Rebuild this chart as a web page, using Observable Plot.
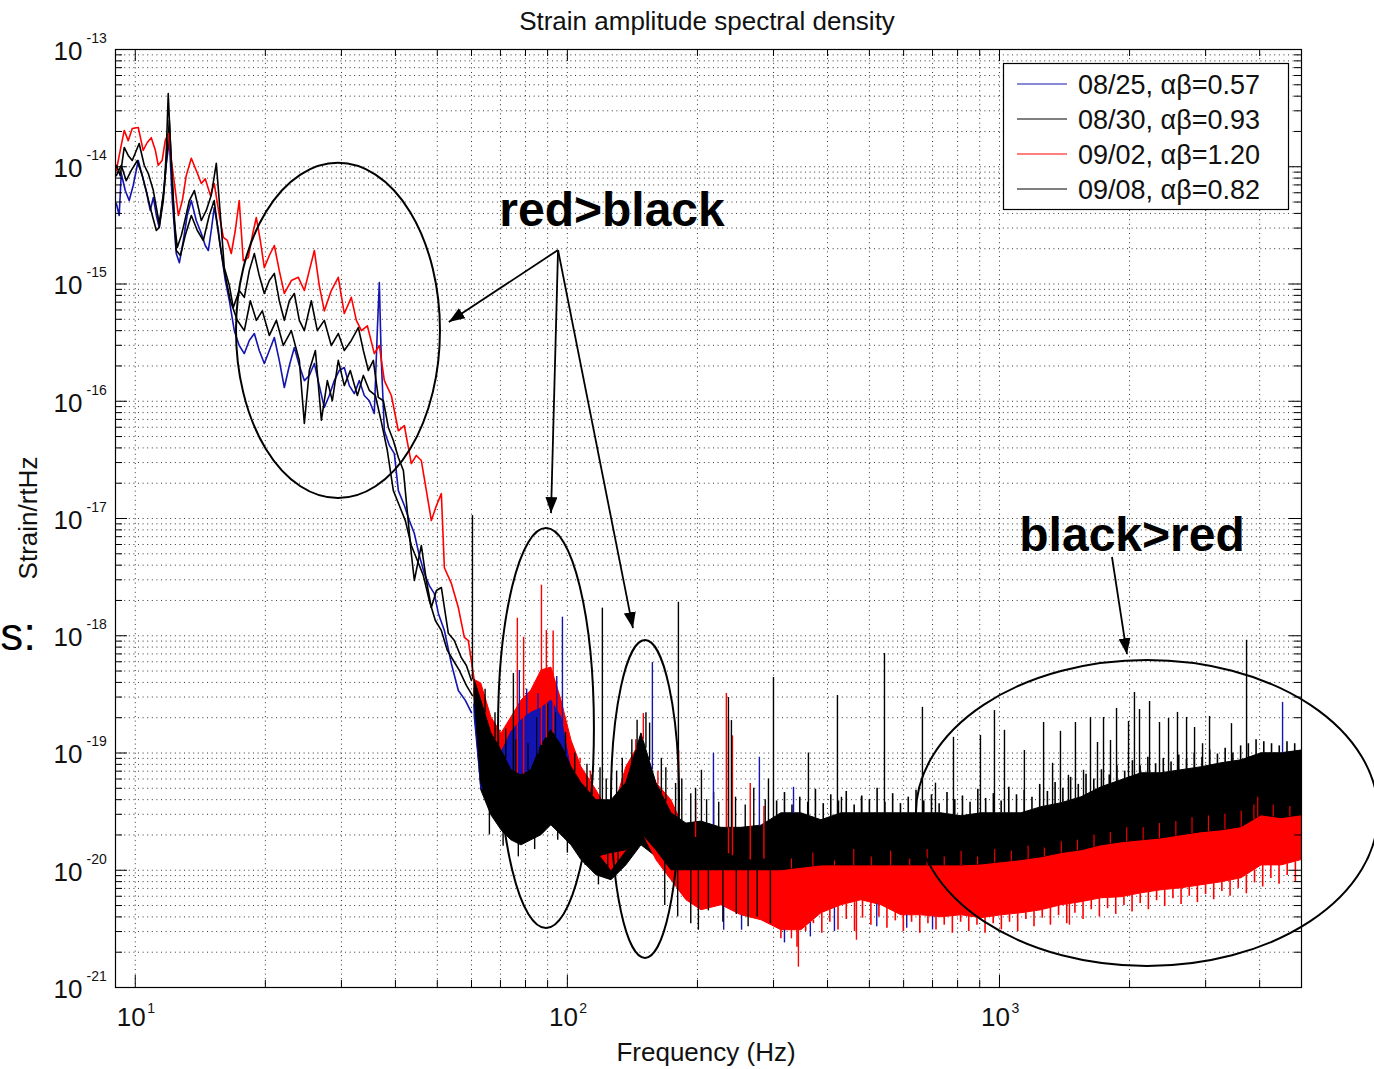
<!DOCTYPE html>
<html><head><meta charset="utf-8">
<script src="https://cdn.jsdelivr.net/npm/d3@7"></script>
<script src="https://cdn.jsdelivr.net/npm/@observablehq/plot@0.6"></script>
<style>
html,body{margin:0;padding:0;background:#fff;}
#wrap{position:relative;width:1374px;height:1069px;overflow:hidden;}
#wrap svg{position:absolute;left:0;top:0;}
</style></head><body><div id="wrap"></div>
<script>
// ---------- text ----------
const titleText = "Strain amplitude spectral density";
const xLabelText = "Frequency (Hz)";
const yLabelText = "Strain/rtHz";
const seriesNames = ["08/25, \u03b1\u03b2=0.57", "08/30, \u03b1\u03b2=0.93", "09/02, \u03b1\u03b2=1.20", "09/08, \u03b1\u03b2=0.82"];
const seriesColors = ["#1414b0", "#000000", "#ff0000", "#000000"];

// ---------- ticks ----------
const xTickValues = [10, 100, 1000];
const yTickValues = [1e-21, 1e-20, 1e-19, 1e-18, 1e-17, 1e-16, 1e-15, 1e-14, 1e-13];
const xDomain = [9, 5000];
const yDomain = [1e-21, 1e-13];

// ---------- low-frequency traces [Hz, strain/rtHz] ----------
const blueTrace = [[9.04,4.86e-15],[9.18,3.84e-15],[9.28,8.75e-15],[9.48,6.27e-15],[9.68,5.15e-15],[9.89,6.92e-15],[10.16,1.13e-14],[10.38,8.4e-15],[10.6,6.27e-15],[10.83,4.24e-15],[11.01,5.47e-15],[11.19,3.84e-15],[11.36,3.03e-15],[11.61,5.7e-15],[11.8,1.07e-14],[11.99,1.67e-14],[12.18,5.15e-15],[12.44,1.82e-15],[12.65,1.52e-15],[12.92,2.35e-15],[13.19,3.84e-15],[13.48,5.15e-15],[13.84,3.48e-15],[14.22,2.7e-15],[14.52,2.13e-15],[14.76,1.93e-15],[14.99,2.86e-15],[15.23,4.49e-15],[15.57,2.86e-15],[15.82,1.82e-15],[16.16,1.07e-15],[16.51,7.2e-16],[16.95,4.0e-16],[17.4,2.99e-16],[17.88,2.55e-16],[18.36,3.3e-16],[18.86,3.78e-16],[19.36,2.71e-16],[19.89,2.1e-16],[20.43,2.71e-16],[20.98,3.5e-16],[21.54,2.23e-16],[22.13,1.31e-16],[22.73,2.02e-16],[23.34,2.87e-16],[23.97,2.02e-16],[24.62,1.5e-16],[25.28,1.66e-16],[25.97,2.1e-16],[26.66,1.36e-16],[27.38,8.85e-17],[28.12,1.12e-16],[28.88,1.5e-16],[29.66,1.83e-16],[30.46,1.94e-16],[31.29,1.36e-16],[32.13,1.16e-16],[33.0,1.5e-16],[33.89,1.12e-16],[34.8,1.01e-16],[35.74,7.87e-17],[36.32,4.0e-16],[36.71,1.03e-15],[37.1,2.23e-16],[37.71,5.6e-17],[38.73,4.2e-17],[39.77,3.58e-17],[40.63,1.73e-17],[41.95,1.29e-17],[43.09,9.6e-18],[44.24,7.45e-18],[45.43,4.83e-18],[46.67,3.4e-18],[47.92,2.68e-18],[49.21,2.29e-18],[50.28,1.55e-18],[51.92,1.11e-18],[53.88,5.8e-19],[55.93,3.41e-19],[58.06,2.81e-19],[59.98,2.21e-19]];

const black0830Trace = [[9.04,8.4e-15],[9.28,1.03e-14],[9.53,7.6e-15],[9.79,9.3e-15],[10.11,1.13e-14],[10.38,8.4e-15],[10.66,5.7e-15],[10.95,3.84e-15],[11.19,2.86e-15],[11.36,3.03e-15],[11.61,5.15e-15],[11.86,1.38e-14],[11.99,2.48e-14],[12.18,7.6e-15],[12.44,1.93e-15],[12.72,1.75e-15],[13.05,2.59e-15],[13.48,3.84e-15],[13.92,2.86e-15],[14.37,2.35e-15],[14.83,3.84e-15],[15.23,5.15e-15],[15.65,2.35e-15],[16.07,1.3e-15],[16.6,7.2e-16],[17.22,4.9e-16],[17.88,4.0e-16],[18.46,7.2e-16],[19.06,4.9e-16],[19.68,5.9e-16],[20.43,3.64e-16],[21.21,4.9e-16],[22.01,2.99e-16],[22.97,4.0e-16],[23.97,2.23e-16],[24.62,6.46e-17],[25.28,1.83e-16],[26.11,2.71e-16],[26.96,6.9e-17],[27.83,1.5e-16],[28.58,1.01e-16],[29.5,2.23e-16],[30.46,1.36e-16],[31.45,1.83e-16],[32.66,1.12e-16],[33.72,1.66e-16],[34.8,1.24e-16],[35.94,1.12e-16],[37.1,6.7e-17],[38.31,3.8e-17],[39.56,1.73e-17],[40.84,1.29e-17],[42.17,9.6e-18],[43.54,5.89e-18],[44.96,4.38e-18],[46.42,3.26e-18],[47.92,2.0e-18],[49.48,1.35e-18],[51.09,1.11e-18],[52.75,7.5e-19],[54.47,6.15e-19],[56.23,5.06e-19],[58.38,3.77e-19],[60.3,3.09e-19]];

const redTrace = [[9.04,9.3e-15],[9.23,1.38e-14],[9.43,2.04e-14],[9.63,1.67e-14],[9.84,2.12e-14],[10.16,2.16e-14],[10.43,1.38e-14],[10.66,1.61e-14],[10.89,1.77e-14],[11.13,1.38e-14],[11.3,1.03e-14],[11.54,1.13e-14],[11.73,1.67e-14],[11.92,1.92e-14],[12.12,1.13e-14],[12.38,6.27e-15],[12.58,3.84e-15],[12.85,5.15e-15],[13.12,8.4e-15],[13.48,1.18e-14],[13.84,9.3e-15],[14.22,7.2e-15],[14.52,7.9e-15],[14.92,5.7e-15],[15.23,7.2e-15],[15.65,3.84e-15],[15.99,2.5e-15],[16.33,2.35e-15],[16.68,1.82e-15],[17.04,2.86e-15],[17.4,5.15e-15],[17.78,1.58e-15],[18.26,1.68e-15],[18.66,2.59e-15],[19.06,3.69e-15],[19.47,2.35e-15],[19.89,1.38e-15],[20.43,1.75e-15],[20.98,2.13e-15],[21.54,1.3e-15],[22.13,8.3e-16],[22.97,1.07e-15],[23.84,1.14e-15],[24.62,8.8e-16],[25.28,1.3e-15],[25.97,1.93e-15],[26.66,9.7e-16],[27.38,5.9e-16],[28.42,8.8e-16],[29.5,1.14e-15],[30.46,5.6e-16],[31.62,7.7e-16],[32.48,4.9e-16],[33.37,4.0e-16],[34.44,4.4e-16],[35.74,2.55e-16],[36.71,2.99e-16],[37.71,1.5e-16],[39.14,1.12e-16],[40.63,5.6e-17],[41.95,6.2e-17],[43.54,2.94e-17],[44.72,3.45e-17],[45.92,3.12e-17],[47.17,1.73e-17],[48.44,9.6e-18],[49.77,1.29e-17],[51.09,1.63e-17],[51.92,3.8e-18],[53.88,2.8e-18],[55.93,1.74e-18],[57.75,9.7e-19],[58.99,9.1e-19],[60.9,4.15e-19]];

const black0908Trace = [[9.04,1.03e-14],[9.23,8.4e-15],[9.43,1.46e-14],[9.63,1.25e-14],[9.84,1.13e-14],[10.21,1.58e-14],[10.49,1.03e-14],[10.72,8.75e-15],[11.01,6.27e-15],[11.36,3.28e-15],[11.67,6.65e-15],[11.8,1.38e-14],[11.92,4.2e-14],[12.05,1.67e-14],[12.31,3.48e-15],[12.51,2.05e-15],[12.78,2.59e-15],[12.98,3.28e-15],[13.34,5.15e-15],[13.7,6.27e-15],[14.22,3.48e-15],[14.6,4.24e-15],[14.99,5.7e-15],[15.4,1.07e-14],[15.74,3.84e-15],[16.07,1.38e-15],[16.51,9.7e-16],[16.86,6.3e-16],[17.4,8.8e-16],[17.88,7.7e-16],[18.36,1.3e-15],[18.86,1.82e-15],[19.36,1.18e-15],[19.89,8.3e-16],[20.43,1.07e-15],[20.98,1.23e-15],[21.54,7.2e-16],[22.13,4.9e-16],[22.73,7.2e-16],[23.34,8.3e-16],[23.97,4.9e-16],[24.62,4.0e-16],[25.55,7.2e-16],[26.38,4.0e-16],[27.38,4.9e-16],[28.42,2.99e-16],[29.5,3.78e-16],[30.46,2.71e-16],[31.62,3.3e-16],[32.83,4.25e-16],[33.72,2.71e-16],[34.63,1.83e-16],[35.56,2.23e-16],[36.51,1.08e-16],[37.51,1.01e-16],[38.52,5.97e-17],[39.56,4.63e-17],[40.63,3.31e-17],[41.73,2.57e-17],[43.54,5.0e-18],[44.24,2.96e-18],[45.92,5.89e-18],[47.17,2.96e-18],[48.44,1.74e-18],[49.77,2.43e-18],[51.09,2.58e-18],[53.03,1.05e-18],[54.75,9.1e-19],[56.83,6.5e-19],[58.38,5.57e-19],[59.98,4.15e-19]];

// ---------- noise bands above 60 Hz [Hz, lower, upper] ----------
const blueMidBand = [[61,2.0e-19,2.6e-19],[63.2,5e-20,2.5e-19],[66.7,4.5e-20,1.3e-19],[70.4,3.8e-20,1.0e-19],[74.2,4.0e-20,1.5e-19],[78.3,4.0e-20,1.9e-19],[82.5,3.6e-20,2.2e-19],[87.1,4.2e-20,2.4e-19],[91.8,5.0e-20,2.8e-19],[96.9,4.2e-20,2.0e-19],[102.2,3.0e-20,7.0e-20],[107.8,2.2e-20,5.0e-20],[116.7,1.8e-20,3.6e-20],[126.5,1.6e-20,3.0e-20],[136.9,1.8e-20,5.0e-20],[148.4,2.3e-20,9.5e-20],[160.7,1.8e-20,4.5e-20]];
const blueHighBand = [[160,1.4e-20,4.0e-20],[200,7e-21,1.8e-20],[250,6e-21,1.3e-20],[300,6e-21,1.2e-20],[400,7e-21,1.15e-20],[600,7e-21,1.15e-20],[900,7e-21,1.15e-20],[1500,7.5e-21,1.5e-20],[2500,9e-21,2.0e-20],[4000,1.3e-20,2.9e-20],[5000,1.4e-20,2.9e-20]];
const black0830Band = [[61,2.5e-19,3.5e-19],[63.2,4.81e-20,2.3e-19],[66.7,2.94e-20,1.28e-19],[70.4,2.19e-20,8.67e-20],[74.2,1.8e-20,6.46e-20],[78.3,1.63e-20,7.13e-20],[82.5,1.8e-20,8.67e-20],[87.1,1.99e-20,1.05e-19],[91.8,2.42e-20,1.28e-19],[96.9,1.99e-20,8.67e-20],[102.2,1.63e-20,5.86e-20],[107.8,1.22e-20,4.36e-20],[116.7,9.07e-21,3.58e-20],[126.5,8.22e-21,3.58e-20],[136.9,1.1e-20,4.81e-20],[148.4,1.63e-20,8.67e-20],[160.7,1.3e-20,4.0e-20],[174.1,9e-21,2.6e-20],[188.6,7e-21,1.9e-20],[204.3,6.5e-21,1.7e-20],[227.3,6.5e-21,1.5e-20],[252.8,6e-21,1.3e-20],[281.2,6e-21,1.3e-20],[312.8,6.5e-21,1.4e-20],[348,7e-21,1.1e-20],[593.1,7e-21,1.17e-20],[1011,7e-21,1.22e-20],[1548,7.5e-21,1.5e-20],[2132,8.5e-21,1.87e-20],[2935,9.5e-21,2.07e-20],[4041,1.3e-20,2.94e-20],[5000,1.4e-20,2.94e-20]];
const redBand = [[61,3.0e-19,4.2e-19],[63.2,1.47e-19,3.92e-19],[66.7,7.56e-20,2.01e-19],[70.4,5.53e-20,1.47e-19],[74.2,3.95e-20,2.01e-19],[78.3,2.67e-20,2.8e-19],[82.5,2.67e-20,3.41e-19],[87.1,3.95e-20,5.06e-19],[91.8,5.86e-20,5.36e-19],[96.9,4.81e-20,2.8e-19],[102.2,3.25e-20,1.28e-19],[107.8,2.07e-20,7.56e-20],[116.7,1.48e-20,4.81e-20],[126.5,1.0e-20,2.83e-20],[136.9,1.48e-20,7.56e-20],[148.4,2.19e-20,1.28e-19],[160.7,1.22e-20,5.53e-20],[174.1,8.22e-21,3.95e-20],[188.6,5.55e-21,2.07e-20],[204.3,4.56e-21,1.8e-20],[227.3,5.03e-21,1.48e-20],[252.8,4.13e-21,1.22e-20],[281.2,3.75e-21,1.22e-20],[312.8,3.08e-21,1.48e-20],[348,3.08e-21,1.15e-20],[387.3,4.3e-21,1.15e-20],[430.8,5.03e-21,1.22e-20],[479.2,5.55e-21,1.4e-20],[533.2,5.03e-21,1.29e-20],[593.1,4.13e-21,1.22e-20],[659.8,4.13e-21,1.22e-20],[734,3.97e-21,1.22e-20],[816.6,4.13e-21,1.27e-20],[908.4,3.9e-21,1.22e-20],[1011,4.13e-21,1.29e-20],[1124,4.3e-21,1.34e-20],[1251,4.56e-21,1.48e-20],[1392,5.03e-21,1.54e-20],[1548,5.34e-21,1.63e-20],[1722,5.77e-21,1.7e-20],[1916,5.89e-21,1.87e-20],[2132,6.36e-21,1.99e-20],[2371,6.75e-21,2.11e-20],[2638,7.02e-21,2.19e-20],[2935,7.45e-21,2.19e-20],[3265,7.9e-21,2.37e-20],[3632,8.55e-21,2.57e-20],[4041,1.1e-20,3.12e-20],[4495,1.1e-20,2.94e-20],[5000,1.22e-20,3.12e-20]];
const black0908Band = [[61,3.0e-19,4.2e-19],[63.2,5.53e-20,2.8e-19],[66.7,3.25e-20,1.47e-19],[70.4,2.83e-20,1.05e-19],[74.2,2.52e-20,7.13e-20],[78.3,2.07e-20,6.46e-20],[82.5,1.91e-20,7.13e-20],[87.1,2.83e-20,1.16e-19],[91.8,3.95e-20,1.56e-19],[96.9,2.83e-20,1.16e-19],[102.2,2.07e-20,7.56e-20],[107.8,1.48e-20,5.53e-20],[116.7,1.3e-20,3.95e-20],[126.5,1.4e-20,3.95e-20],[136.9,1.48e-20,5.53e-20],[148.4,2.07e-20,1.47e-19],[160.7,1.48e-20,5.53e-20],[174.1,1.0e-20,3.06e-20],[188.6,1.0e-20,2.5e-20],[204.3,1.0e-20,2.6e-20],[227.3,1.0e-20,2.3e-20],[252.8,1.0e-20,2.3e-20],[281.2,1.0e-20,2.4e-20],[312.8,1.0e-20,3.06e-20],[348,1.05e-20,3.06e-20],[387.3,1.1e-20,2.67e-20],[430.8,1.1e-20,3.06e-20],[479.2,1.1e-20,3.06e-20],[533.2,1.1e-20,3.06e-20],[593.1,1.1e-20,3.06e-20],[659.8,1.1e-20,3.06e-20],[734,1.1e-20,3.06e-20],[816.6,1.1e-20,2.89e-20],[908.4,1.12e-20,3.06e-20],[1011,1.17e-20,3.06e-20],[1124,1.22e-20,3.06e-20],[1251,1.29e-20,3.45e-20],[1392,1.4e-20,3.73e-20],[1548,1.48e-20,4.19e-20],[1722,1.63e-20,5.1e-20],[1916,1.73e-20,5.86e-20],[2132,1.8e-20,6.72e-20],[2371,1.87e-20,6.72e-20],[2638,1.99e-20,7.13e-20],[2935,2.11e-20,7.56e-20],[3265,2.19e-20,8.17e-20],[3632,2.33e-20,8.67e-20],[4041,2.94e-20,9.95e-20],[4495,2.78e-20,9.95e-20],[5000,2.94e-20,1.05e-19]];

// ---------- narrow lines: [Hz, tip value] ----------
const blackPeaks = [[60.3,1.06e-17],[75.0,4.76e-19],[120.5,1.72e-18],[180.7,1.93e-18],[204.3,7.13e-20],[235.9,2.97e-19],[239.7,1.89e-19],[299.9,4.41e-19],[361.3,1.0e-19],[421.7,3.09e-19],[430.8,4.19e-20],[479.2,4.19e-20],[541.8,7.06e-19],[663.3,2.45e-19],[711,5.53e-20],[782.6,1.36e-19],[903.6,1.41e-19],[973.6,2.3e-19],[1027,1.56e-19],[1142,1.05e-19],[1265,1.82e-19],[1327,8.17e-20],[1384,1.53e-19],[1444,6.46e-20],[1499,1.82e-19],[1565,7.13e-20],[1624,2.01e-19],[1686,1.23e-19],[1741,2.01e-19],[1807,1.28e-19],[1866,2.4e-19],[1989,1.86e-19],[2053,3.28e-19],[2109,2.35e-19],[2225,2.75e-19],[2346,1.82e-19],[2462,1.97e-19],[2582,2.22e-19],[2710,2.01e-19],[2828,1.65e-19],[2951,1.2e-19],[3063,2.05e-19],[3443,1.78e-19],[3731,9.15e-19]];
const blackMidUp = [[64.5,3.5e-19],[68,2.2e-19],[72,1.6e-19],[76,1.3e-19],[81,1.2e-19],[85,2.0e-19],[90,2.6e-19],[94,2.2e-19],[99,1.5e-19],[104,1.0e-19],[111,8.0e-20],[114,6.5e-20],[119,7.5e-20],[123,6.0e-20],[130,7.0e-20],[134,9.0e-20],[141,1.3e-19],[145,1.9e-19],[152,2.2e-19],[155,1.8e-19],[165,9.0e-20],[169,7.5e-20],[178,5.5e-20],[184,6.0e-20],[193,4.5e-20],[198,5.0e-20],[210,4.0e-20],[218,4.6e-20],[224,3.8e-20],[245,4.2e-20],[258,3.6e-20],[270,5.0e-20],[287,4.0e-20],[292,6.0e-20]];
const blackTopNoise = [[305,3.9e-20],[318,4.6e-20],[331,3.6e-20],[345,4.2e-20],[360,3.8e-20],[375,4.9e-20],[391,3.7e-20],[407,4.4e-20],[424,3.9e-20],[442,4.7e-20],[461,3.6e-20],[480,4.3e-20],[500,4.0e-20],[521,5.0e-20],[543,3.8e-20],[566,4.5e-20],[590,3.7e-20],[615,4.2e-20],[641,4.8e-20],[668,3.9e-20],[696,4.4e-20],[725,3.7e-20],[756,4.6e-20],[788,4.0e-20],[821,4.3e-20],[855,3.8e-20],[891,4.9e-20],[929,4.1e-20],[968,4.5e-20],[1009,3.9e-20],[1051,5.1e-20],[1095,4.4e-20],[1141,4.8e-20],[1189,4.2e-20],[1239,5.4e-20],[1291,4.7e-20],[1345,5.6e-20],[1402,5.0e-20],[1461,6.2e-20],[1522,5.4e-20],[1586,6.6e-20],[1653,6.0e-20],[1722,7.2e-20],[1795,6.5e-20],[1870,7.8e-20],[1949,7.0e-20],[2031,8.6e-20],[2116,7.8e-20],[2205,9.2e-20],[2298,8.1e-20],[2394,9.0e-20],[2495,8.4e-20],[2600,9.6e-20],[2709,8.8e-20],[2823,1.0e-19],[2942,9.2e-20],[3066,1.06e-19],[3195,9.8e-20],[3329,1.1e-19],[3469,1.0e-19],[3615,1.15e-19],[3767,1.2e-19],[3925,1.3e-19],[4090,1.25e-19],[4262,1.2e-19],[4441,1.15e-19],[4628,1.25e-19],[4822,1.2e-19]];
const blackDips = [[66,2.0e-20],[71,1.6e-20],[77,1.3e-20],[84,1.5e-20],[95,1.8e-20],[100,1.4e-20],[110,1.1e-20],[118,7.5e-21],[124,9e-21],[131,1.0e-20],[168,5.0e-21],[180,4.0e-21],[193,3.5e-21],[201,3.08e-21],[212,4.5e-21],[229,3.6e-21],[246,4.2e-21],[262,3.3e-21],[275,4.0e-21],[295,3.5e-21]];
const redPeaks = [[76.6,1.41e-18],[79.2,9.7e-19],[87.1,2.7e-18],[89.4,1.11e-18],[92.7,1.1e-18],[149.9,2.17e-19],[233.3,3.22e-19]];
const redMidUp = [[107,9e-20],[113,7e-20],[139,8e-20],[144,1.3e-19],[162,7e-20],[181,1.04e-19],[198,4e-20],[236,1.9e-19],[241,1.4e-19],[265,5.5e-20],[285,3.5e-20]];
const redTopNoise = [[330,1.25e-20],[370,1.4e-20],[415,1.2e-20],[460,1.5e-20],[505,1.3e-20],[560,1.45e-20],[620,1.25e-20],[680,1.5e-20],[745,1.3e-20],[815,1.45e-20],[890,1.3e-20],[975,1.5e-20],[1065,1.45e-20],[1165,1.6e-20],[1270,1.55e-20],[1390,1.75e-20],[1515,1.8e-20],[1655,2.0e-20],[1805,2.1e-20],[1970,2.3e-20],[2150,2.3e-20],[2345,2.5e-20],[2560,2.6e-20],[2790,2.8e-20],[3045,2.9e-20],[3325,3.0e-20],[3625,3.2e-20],[3880,3.6e-20],[3960,4.2e-20],[4300,3.6e-20],[4700,3.5e-20]];
const redDips = [[342.5,1.49e-21],[330,2.6e-21],[466.7,2.53e-21],[1452,3.4e-21]];
const redBottomNoise = [[312,2.6e-21],[326,3.3e-21],[340,2.2e-21],[356,3.0e-21],[371,3.5e-21],[388,2.9e-21],[405,3.6e-21],[423,3.1e-21],[442,3.8e-21],[462,3.0e-21],[482,3.9e-21],[504,3.4e-21],[526,4.0e-21],[549,3.2e-21],[574,3.7e-21],[599,3.0e-21],[626,3.6e-21],[654,2.9e-21],[683,3.5e-21],[713,3.1e-21],[745,3.4e-21],[778,2.9e-21],[813,3.6e-21],[849,3.0e-21],[887,3.4e-21],[926,2.9e-21],[967,3.5e-21],[1010,3.1e-21],[1055,3.6e-21],[1102,3.0e-21],[1151,3.8e-21],[1202,3.3e-21],[1256,3.9e-21],[1312,3.4e-21],[1370,4.1e-21],[1431,3.5e-21],[1495,4.3e-21],[1561,3.8e-21],[1631,4.6e-21],[1703,4.0e-21],[1779,4.7e-21],[1858,4.2e-21],[1941,5.0e-21],[2027,4.4e-21],[2117,5.2e-21],[2211,4.6e-21],[2310,5.5e-21],[2412,4.9e-21],[2520,5.7e-21],[2632,5.1e-21],[2749,6.0e-21],[2871,5.3e-21],[2999,6.2e-21],[3132,5.6e-21],[3271,6.6e-21],[3417,6.0e-21],[3569,7.0e-21],[3727,6.3e-21],[3893,7.8e-21],[4066,7.2e-21],[4247,8.5e-21],[4436,7.6e-21],[4633,9.0e-21],[4839,8.0e-21]];
const bluePeaks = [[77.4,5.06e-19],[80.5,3.5e-19],[85.5,3.2e-19],[94.5,4.5e-19],[97.4,1.44e-18],[157.3,5.91e-19],[217.8,9.95e-20],[278.2,9.2e-20],[333.7,5.1e-20],[4520,2.7e-19]];
const blueDips = [[230,3.08e-21],[253,3.08e-21],[318,2.4e-21],[365,2.7e-21],[415,3.0e-21],[520,3.3e-21],[610,3.2e-21],[700,3.1e-21]];

// ---------- annotations ----------
// ellipses: [f left, f right, strain bottom, strain top]
const annotEllipses = [[17.15,50.85,1.48e-17,1.07e-14],[69.3,115.5,3.18e-21,8.2e-18],[126.5,181.8,1.77e-21,9.1e-19],[642.4,7537,1.51e-21,6.15e-19]];
// arrows: [f from, strain from, f to, strain to]
const annotArrows = [[95.4,1.93e-15,53.3,4.7e-16],[95.4,1.93e-15,91.9,1.1e-17],[95.4,1.93e-15,142.2,1.15e-18],[1826,4.65e-18,1978,6.9e-19]];
// labels: [f centre, strain baseline, text]
const annotLabels = [[127.2,3.09e-15,"red>black"],[2032,5.23e-18,"black>red"]];

// ---------- helpers ----------
const W = 1374, H = 1069, ML = 115, MR = 73, MT = 49, MB = 82;
const FW = W - ML - MR, FH = H - MT - MB;
function edgeAt(band, f, k) {
  const i = d3.bisector(d => d[0]).left(band, f);
  if (i <= 0) return band[0][k];
  if (i >= band.length) return band[band.length - 1][k];
  const a = band[i - 1], b = band[i];
  const t = (Math.log(f) - Math.log(a[0])) / (Math.log(b[0]) - Math.log(a[0]));
  return Math.exp(Math.log(a[k]) + t * (Math.log(b[k]) - Math.log(a[k])));
}
const xMinor = [], yMinor = [];
for (const d of [10, 100, 1000]) for (let m = 2; m <= 9; m++) if (m * d < 5000) xMinor.push(m * d);
for (let e = -21; e < -13; e++) for (let m = 2; m <= 9; m++) yMinor.push(m * Math.pow(10, e));
const xGrid = xTickValues.concat(xMinor);
const yGrid = yTickValues.slice(1, -1).concat(yMinor);

const [BLUE, BLACK, RED] = [seriesColors[0], seriesColors[1], seriesColors[2]];
const lineOpts = (c) => ({x: d => d[0], y: d => d[1], stroke: c, strokeWidth: 1.6});
const bandOpts = (c) => ({x: d => d[0], y1: d => d[1], y2: d => d[2], fill: c, stroke: c, strokeWidth: 1});
const upOpts = (band, k, c, w = 1.4) => ({x: d => d[0], y1: d => edgeAt(band, d[0], k), y2: d => d[1], stroke: c, strokeWidth: w});
const gridStyle = {stroke: "#000", strokeOpacity: 0.8, strokeWidth: 1, strokeDasharray: "1,3.6"};
const TXT = "#111";

const plot = Plot.plot({
  width: W, height: H,
  marginLeft: ML, marginRight: MR, marginTop: MT, marginBottom: MB,
  style: {fontFamily: "'Liberation Sans', Arial, sans-serif", background: "#fff", color: "#000"},
  x: {type: "log", domain: xDomain, axis: null},
  y: {type: "log", domain: yDomain, axis: null},
  marks: [
    Plot.ruleX(xGrid, {x: d => d, ...gridStyle}),
    Plot.ruleY(yGrid, {y: d => d, ...gridStyle}),
    // MATLAB draw order: 08/25, 08/30, 09/02, 09/08
    Plot.areaY(blueHighBand, bandOpts(BLUE)),
    Plot.line(blueTrace, lineOpts(BLUE)),
    Plot.line(black0830Trace, lineOpts(BLACK)),
    Plot.areaY(black0830Band, bandOpts(BLACK)),
    Plot.line(redTrace, lineOpts(RED)),
    Plot.areaY(redBand, bandOpts(RED)),
    Plot.ruleX(redBottomNoise, upOpts(redBand, 1, RED, 1.6)),
    Plot.areaY(blueMidBand, bandOpts(BLUE)),
    Plot.line(black0908Trace, lineOpts(BLACK)),
    Plot.areaY(black0908Band, bandOpts(BLACK)),
    Plot.ruleX(blackTopNoise, upOpts(black0908Band, 2, BLACK, 1.6)),
    Plot.ruleX(redTopNoise, upOpts(black0908Band, 1, RED, 1.1)),
    Plot.ruleX(redMidUp, upOpts(redBand, 2, RED)),
    Plot.ruleX(redDips, upOpts(redBand, 1, RED)),
    Plot.ruleX(blueDips, upOpts(redBand, 1, BLUE)),
    Plot.ruleX(blackDips, upOpts(black0908Band, 1, BLACK)),
    Plot.ruleX(blackMidUp, upOpts(black0908Band, 2, BLACK)),
    Plot.ruleX(redPeaks, upOpts(black0908Band, 2, RED)),
    Plot.ruleX(blackPeaks, upOpts(black0908Band, 2, BLACK)),
    Plot.ruleX(bluePeaks, upOpts(black0908Band, 2, BLUE)),
    Plot.frame({stroke: "#000", strokeWidth: 1.2}),
    // tick marks (inside the frame)
    Plot.ruleX(xTickValues, {x: d => d, insetTop: FH - 12, stroke: "#000"}),
    Plot.ruleX(xTickValues, {x: d => d, insetBottom: FH - 12, stroke: "#000"}),
    Plot.ruleX(xMinor, {x: d => d, insetTop: FH - 7, stroke: "#000"}),
    Plot.ruleX(xMinor, {x: d => d, insetBottom: FH - 7, stroke: "#000"}),
    Plot.ruleY(yTickValues, {y: d => d, insetRight: FW - 12, stroke: "#000"}),
    Plot.ruleY(yTickValues, {y: d => d, insetLeft: FW - 12, stroke: "#000"}),
    Plot.ruleY(yMinor, {y: d => d, insetRight: FW - 7, stroke: "#000"}),
    Plot.ruleY(yMinor, {y: d => d, insetLeft: FW - 7, stroke: "#000"}),
    // tick labels 10^n
    Plot.text(yTickValues, {y: d => d, frameAnchor: "left", text: () => "10", dx: -33, dy: 2, textAnchor: "end", fontSize: 26, fill: TXT}),
    Plot.text(yTickValues, {y: d => d, frameAnchor: "left", text: d => String(Math.round(Math.log10(d))), dx: -29, dy: -11, textAnchor: "start", fontSize: 14, fill: TXT}),
    Plot.text(xTickValues, {x: d => d, frameAnchor: "bottom", text: () => "10", dx: -4, dy: 38, fontSize: 26, fill: TXT}),
    Plot.text(xTickValues, {x: d => d, frameAnchor: "bottom", text: d => String(Math.round(Math.log10(d))), dx: 12, dy: 25, textAnchor: "start", fontSize: 14, fill: TXT})
  ]
});
document.getElementById("wrap").appendChild(plot);

// ---------- overlays positioned through the plot's own scales ----------
const sx = plot.scale("x"), sy = plot.scale("y");
const svg = d3.select(plot);
const ff = "'Liberation Sans', Arial, sans-serif";
svg.append("text").attr("x", 707).attr("y", 30).attr("text-anchor", "middle").attr("font-size", 26).attr("font-family", ff).attr("fill", TXT).text(titleText);
svg.append("text").attr("x", 706).attr("y", 1061).attr("text-anchor", "middle").attr("font-size", 26).attr("font-family", ff).attr("fill", TXT).text(xLabelText);
svg.append("text").attr("transform", "translate(37,518) rotate(-90)").attr("text-anchor", "middle").attr("font-size", 26).attr("font-family", ff).attr("fill", TXT).text(yLabelText);
svg.append("text").attr("x", 36).attr("y", 650).attr("text-anchor", "end").attr("font-size", 46).attr("font-family", ff).attr("fill", "#000").text("s:");

// legend
const lg = svg.append("g");
lg.append("rect").attr("x", 1003.5).attr("y", 63.5).attr("width", 285).attr("height", 146).attr("fill", "#fff").attr("stroke", "#000").attr("stroke-width", 1.2);
seriesNames.forEach((name, i) => {
  const yy = 84 + i * 35;
  lg.append("line").attr("x1", 1017).attr("x2", 1067).attr("y1", yy).attr("y2", yy).attr("stroke", seriesColors[i]).attr("stroke-width", 1.2);
  lg.append("text").attr("x", 1078).attr("y", yy + 10).attr("text-anchor", "start").attr("font-size", 27).attr("font-family", ff).attr("fill", TXT).text(name);
});

// annotations
const ag = svg.append("g");
ag.append("defs").append("marker").attr("id", "ah").attr("viewBox", "0 0 16 12").attr("refX", 16).attr("refY", 6)
  .attr("markerWidth", 16).attr("markerHeight", 12).attr("markerUnits", "userSpaceOnUse").attr("orient", "auto")
  .append("path").attr("d", "M0,0 L16,6 L0,12 Z").attr("fill", "#000");
annotEllipses.forEach(([f1, f2, v1, v2]) => {
  const x1 = sx.apply(f1), x2 = sx.apply(f2), y1 = sy.apply(v1), y2 = sy.apply(v2);
  ag.append("ellipse").attr("cx", (x1 + x2) / 2).attr("cy", (y1 + y2) / 2).attr("rx", Math.abs(x2 - x1) / 2).attr("ry", Math.abs(y2 - y1) / 2)
    .attr("fill", "none").attr("stroke", "#000").attr("stroke-width", 2);
});
annotArrows.forEach(([f1, v1, f2, v2]) => {
  ag.append("line").attr("x1", sx.apply(f1)).attr("y1", sy.apply(v1)).attr("x2", sx.apply(f2)).attr("y2", sy.apply(v2))
    .attr("stroke", "#000").attr("stroke-width", 1.8).attr("marker-end", "url(#ah)");
});
annotLabels.forEach(([f, v, t]) => {
  ag.append("text").attr("x", sx.apply(f)).attr("y", sy.apply(v)).attr("text-anchor", "middle").attr("font-size", 48)
    .attr("font-weight", "bold").attr("font-family", ff).attr("fill", "#000").text(t);
});
</script></body></html>
